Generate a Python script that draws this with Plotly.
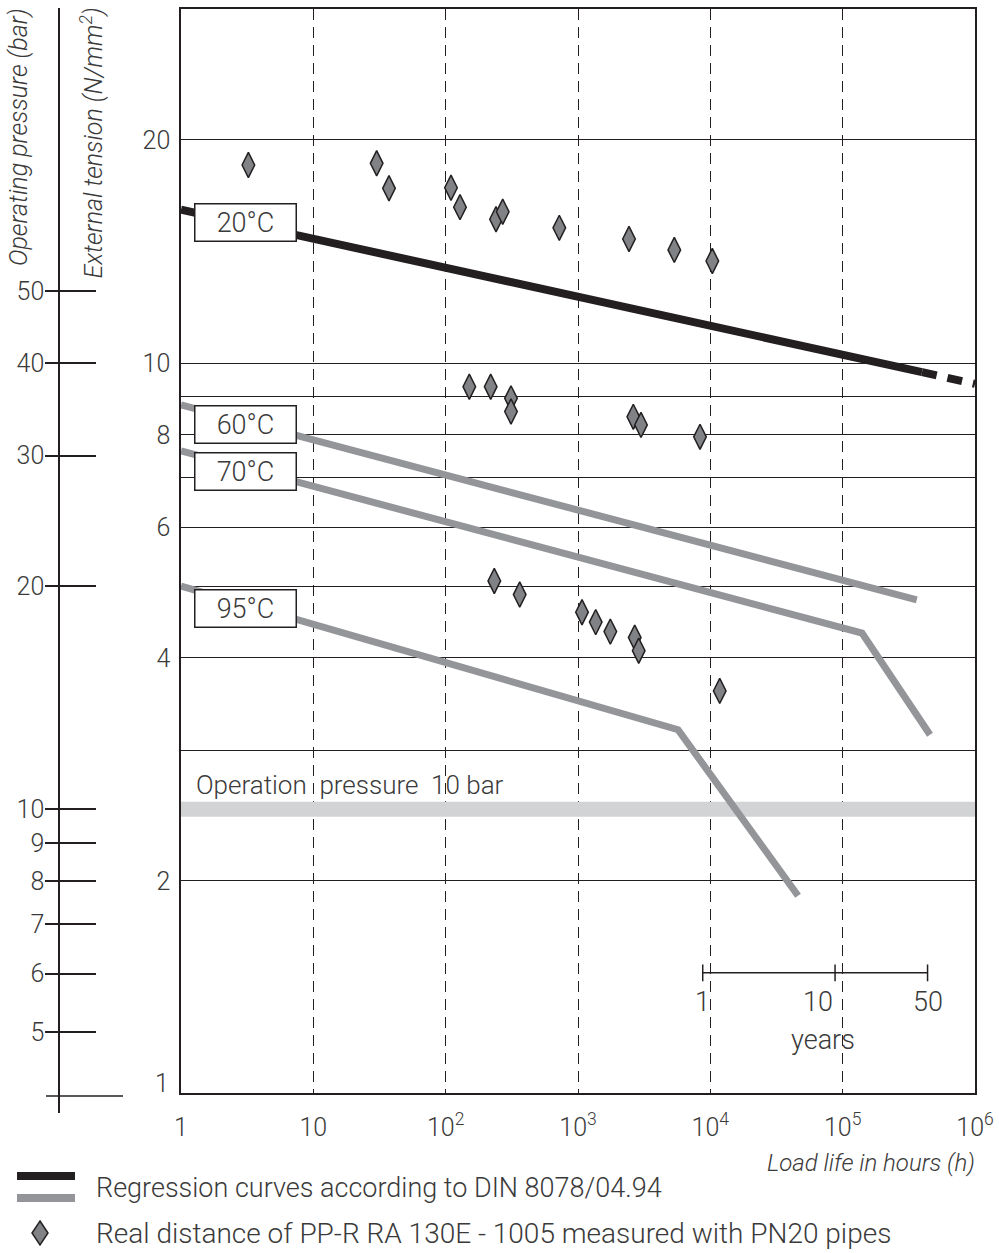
import math
import plotly.graph_objects as go

W, H = 999, 1253

# ---------------- data ----------------
x_tick_vals = [1, 10, 100, 1000, 10000, 100000, 1000000]
x_tick_text = ["1", "10", "10<sup>2</sup>", "10<sup>3</sup>", "10<sup>4</sup>",
               "10<sup>5</sup>", "10<sup>6</sup>"]
y_tick_vals = [2, 4, 6, 8, 10, 20]
y_tick_text = ["2", "4", "6", "8", "10", "20"]
y_minor_vals = [3, 5, 7, 9]
p_tick_vals = [5, 6, 7, 8, 9, 10, 20, 30, 40, 50]
p_tick_text = ["5", "6", "7", "8", "9", "10", "20", "30", "40", "50"]

# regression curves (hours, N/mm2)
c20_x = [1, 398000]
c20_y = [16.1, 9.72]
c20_ext_x = [398000, 1000000]
c20_ext_y = [9.72, 9.37]
c60_x = [1, 363000]
c60_y = [8.78, 4.79]
c70_x = [1, 140000, 457000]
c70_y = [7.61, 4.32, 3.15]
c95_x = [1, 5700, 46000]
c95_y = [5.0, 3.20, 1.91]

# measured points (hours, N/mm2)
pts_x = [3.23, 30.1, 37.3, 109.7, 128.3, 240.2, 269.8, 722.3, 2429, 5343, 10352,
         150.9, 218.9, 311.6, 311.6, 2618, 2993, 8356,
         233.1, 362.6, 1072, 1361, 1755, 2683, 2876, 11776]
pts_y = [18.50, 18.60, 17.21, 17.24, 16.23, 15.63, 16.00, 15.22, 14.70, 14.21, 13.73,
         9.29, 9.29, 8.96, 8.60, 8.46, 8.25, 7.95,
         5.08, 4.87, 4.61, 4.47, 4.34, 4.26, 4.09, 3.61]

op_pressure_bar = 10
bar_per_tension = 4  # operating pressure (bar) = 4 x external tension (N/mm2)

years_vals = [1, 10, 50]
hours_per_year = 8760

curve_labels = ["20°C", "60°C", "70°C", "95°C"]
curve_label_y = [15.45, 8.26, 7.13, 4.66]

# ---------------- style ----------------
DARK = "#231f20"
TXT = "#3a3a3a"
GREY = "#939598"
LIGHT = "#d1d3d4"
FONT = "Roboto"
FW = 300


def f(size):
    return dict(family=FONT, size=size, color=TXT, weight=FW)


fig = go.Figure()

# operation pressure band
op_t = op_pressure_bar / bar_per_tension
fig.add_trace(go.Scatter(x=[1, 1000000], y=[op_t, op_t], mode="lines",
                         line=dict(color=LIGHT, width=15), hoverinfo="skip"))

# curves
for cx, cy, col, w in [(c60_x, c60_y, GREY, 7), (c70_x, c70_y, GREY, 7),
                       (c95_x, c95_y, GREY, 7), (c20_x, c20_y, DARK, 8)]:
    fig.add_trace(go.Scatter(x=cx, y=cy, mode="lines",
                             line=dict(color=col, width=w), hoverinfo="skip"))
fig.add_trace(go.Scatter(x=c20_ext_x, y=c20_ext_y, mode="lines",
                         line=dict(color=DARK, width=8, dash="15px,11px"), hoverinfo="skip"))

# measured points
fig.add_trace(go.Scatter(x=pts_x, y=pts_y, mode="markers",
                         marker=dict(symbol="diamond-tall", size=18, color="#808285",
                                     line=dict(color=DARK, width=1.5))))

# years scale
yr_h = [v * hours_per_year for v in years_vals]
yr_level = 1.503
fig.add_trace(go.Scatter(x=yr_h, y=[yr_level] * len(yr_h), mode="lines+markers",
                         line=dict(color=DARK, width=1.5),
                         marker=dict(symbol="line-ns", size=12,
                                     line=dict(color=DARK, width=1.5)),
                         hoverinfo="skip"))

# dummy traces for the pressure axes
fig.add_trace(go.Scatter(x=[1], y=[10], xaxis="x2", yaxis="y2", mode="none", hoverinfo="skip"))
fig.add_trace(go.Scatter(x=[1], y=[10], xaxis="x2", yaxis="y3", mode="none", hoverinfo="skip"))


def px2ls(py):  # pixel row -> log10 tension
    return 1 - (py - 363) / 741.0


def px2lx(px):  # pixel column -> log10 hours
    return (px - 181) / 132.33


y_dom = [1 - 1093 / H, 1 - 9 / H]
p_dom = [1 - 1113 / H, 1 - 8 / H]
lp4 = math.log10(bar_per_tension)
p_range = [lp4 + px2ls(1113), lp4 + px2ls(8)]

fig.update_layout(
    width=W, height=H, margin=dict(l=0, r=0, t=0, b=0, autoexpand=False),
    paper_bgcolor="white", plot_bgcolor="white", showlegend=False,
    font=f(25),
    xaxis=dict(domain=[181 / W, 975 / W], type="log", range=[0, 6],
               tickvals=x_tick_vals, ticktext=x_tick_text, ticks="",
               showgrid=True, gridcolor=DARK, gridwidth=1.3, griddash="11px,7px",
               showline=True, mirror=True, linecolor=DARK, linewidth=1.5,
               zeroline=False, ticklabelstandoff=11, tickfont=f(25), automargin=False),
    yaxis=dict(domain=y_dom, type="log", range=[px2ls(1093), px2ls(9)],
               tickvals=y_tick_vals, ticktext=y_tick_text, ticks="",
               showgrid=True, gridcolor=DARK, gridwidth=1.3,
               minor=dict(tickvals=y_minor_vals, showgrid=True, gridcolor=DARK,
                          gridwidth=1.3, ticks=""),
               showline=True, mirror=True, linecolor=DARK, linewidth=1.5,
               zeroline=False, ticklabelstandoff=4, tickfont=f(25), automargin=False),
    xaxis2=dict(domain=[0, 0.02], anchor="y2", visible=False, range=[0, 1]),
    yaxis2=dict(domain=p_dom, type="log", range=p_range, anchor="free",
                position=59 / W, side="left",
                tickvals=p_tick_vals, ticktext=p_tick_text, ticks="outside",
                ticklen=13, tickwidth=1.5, tickcolor=DARK,
                showgrid=False, zeroline=False, showline=True, linecolor=DARK,
                linewidth=1.5, ticklabelstandoff=-4, tickfont=f(25), automargin=False),
    yaxis3=dict(domain=p_dom, type="log", range=p_range, anchor="free",
                position=59 / W, side="left", overlaying="y2",
                tickvals=p_tick_vals, ticks="inside", ticklen=36, tickwidth=1.5,
                tickcolor=DARK, showticklabels=False, showgrid=False,
                zeroline=False, showline=False, automargin=False),
)

ann = []
# curve labels
for lab, ly in zip(curve_labels, curve_label_y):
    ann.append(dict(x=0.489, y=math.log10(ly), xref="x", yref="y", text=lab,
                    xanchor="center", yanchor="middle",
                    showarrow=False, bgcolor="white", bordercolor=DARK, borderwidth=1.5,
                    borderpad=0, width=100, height=36, font=f(27)))
# operation pressure text
ann.append(dict(x=px2lx(194), y=px2ls(785), xref="x", yref="y", xanchor="left",
                yanchor="middle",
                text="Operation  pressure  10 bar", showarrow=False, font=f(26)))
# years labels
ann.append(dict(x=math.log10(yr_h[0]), y=px2ls(1002), xref="x", yref="y", text="1",
                xanchor="center", yanchor="middle", showarrow=False, font=f(27)))
ann.append(dict(x=math.log10(yr_h[1]), y=px2ls(1002), xref="x", yref="y", text="10",
                xanchor="right", yanchor="middle", showarrow=False, font=f(27)))
ann.append(dict(x=math.log10(yr_h[2]), y=px2ls(1002), xref="x", yref="y", text="50",
                xanchor="center", yanchor="middle", showarrow=False, font=f(27)))
ann.append(dict(x=px2lx(823), y=px2ls(1040), xref="x", yref="y", text="years",
                xanchor="center", yanchor="middle", showarrow=False, font=f(27)))
# bottom "1" of tension axis
ann.append(dict(x=171 / W, y=1 - 1083 / H, xref="paper", yref="paper", text="1",
                xanchor="right", yanchor="middle", showarrow=False, font=f(25)))
# axis titles
ann.append(dict(x=18 / W, y=1 - 6 / H, xref="paper", yref="paper", textangle=-90,
                xanchor="center", yanchor="top", text="<i>Operating pressure (bar)</i>",
                showarrow=False, font=f(25)))
ann.append(dict(x=92 / W, y=1 - 6 / H, xref="paper", yref="paper", textangle=-90,
                xanchor="center", yanchor="top",
                text="<i>External tension (N/mm<sup>2</sup>)</i>",
                showarrow=False, font=f(25)))
ann.append(dict(x=977 / W, y=1 - 1163 / H, xref="paper", yref="paper", xanchor="right",
                yanchor="middle",
                text="<i>Load life in hours (h)</i>", showarrow=False, font=f(24)))
# legend texts
ann.append(dict(x=94 / W, y=1 - 1188 / H, xref="paper", yref="paper", xanchor="left",
                yanchor="middle",
                text="Regression curves according to DIN 8078/04.94", showarrow=False,
                font=f(27)))
ann.append(dict(x=94 / W, y=1 - 1233 / H, xref="paper", yref="paper", xanchor="left",
                yanchor="middle",
                text="Real distance of PP-R RA 130E - 1005 measured with PN20 pipes",
                showarrow=False, font=f(28)))
fig.update_layout(annotations=ann)


# legend swatches & left-axis bottom stroke (decorations in paper coords)
def P(px, py):
    return px / W, 1 - py / H


shapes = []
x0, y0 = P(17, 1172); x1, y1 = P(75, 1180)
shapes.append(dict(type="rect", xref="paper", yref="paper", x0=x0, y0=y0, x1=x1, y1=y1,
                   fillcolor=DARK, line=dict(width=0)))
x0, y0 = P(17, 1194); x1, y1 = P(75, 1202)
shapes.append(dict(type="rect", xref="paper", yref="paper", x0=x0, y0=y0, x1=x1, y1=y1,
                   fillcolor=GREY, line=dict(width=0)))
cx, cy = 40, 1233
pts = [P(cx, cy - 12), P(cx + 8, cy), P(cx, cy + 12), P(cx - 8, cy)]
path = "M " + " L ".join(f"{a},{b}" for a, b in pts) + " Z"
shapes.append(dict(type="path", xref="paper", yref="paper", path=path,
                   fillcolor="#808285", line=dict(color=DARK, width=1.5)))
x0, y0 = P(46, 1096); x1, y1 = P(123, 1096)
shapes.append(dict(type="line", xref="paper", yref="paper", x0=x0, y0=y0, x1=x1, y1=y1,
                   line=dict(color=DARK, width=1.5)))
fig.update_layout(shapes=shapes)

fig.write_html("out.html", config={"displayModeBar": False},
               post_script="document.body.style.margin='0';"
                           "document.body.style.overflow='hidden';")
